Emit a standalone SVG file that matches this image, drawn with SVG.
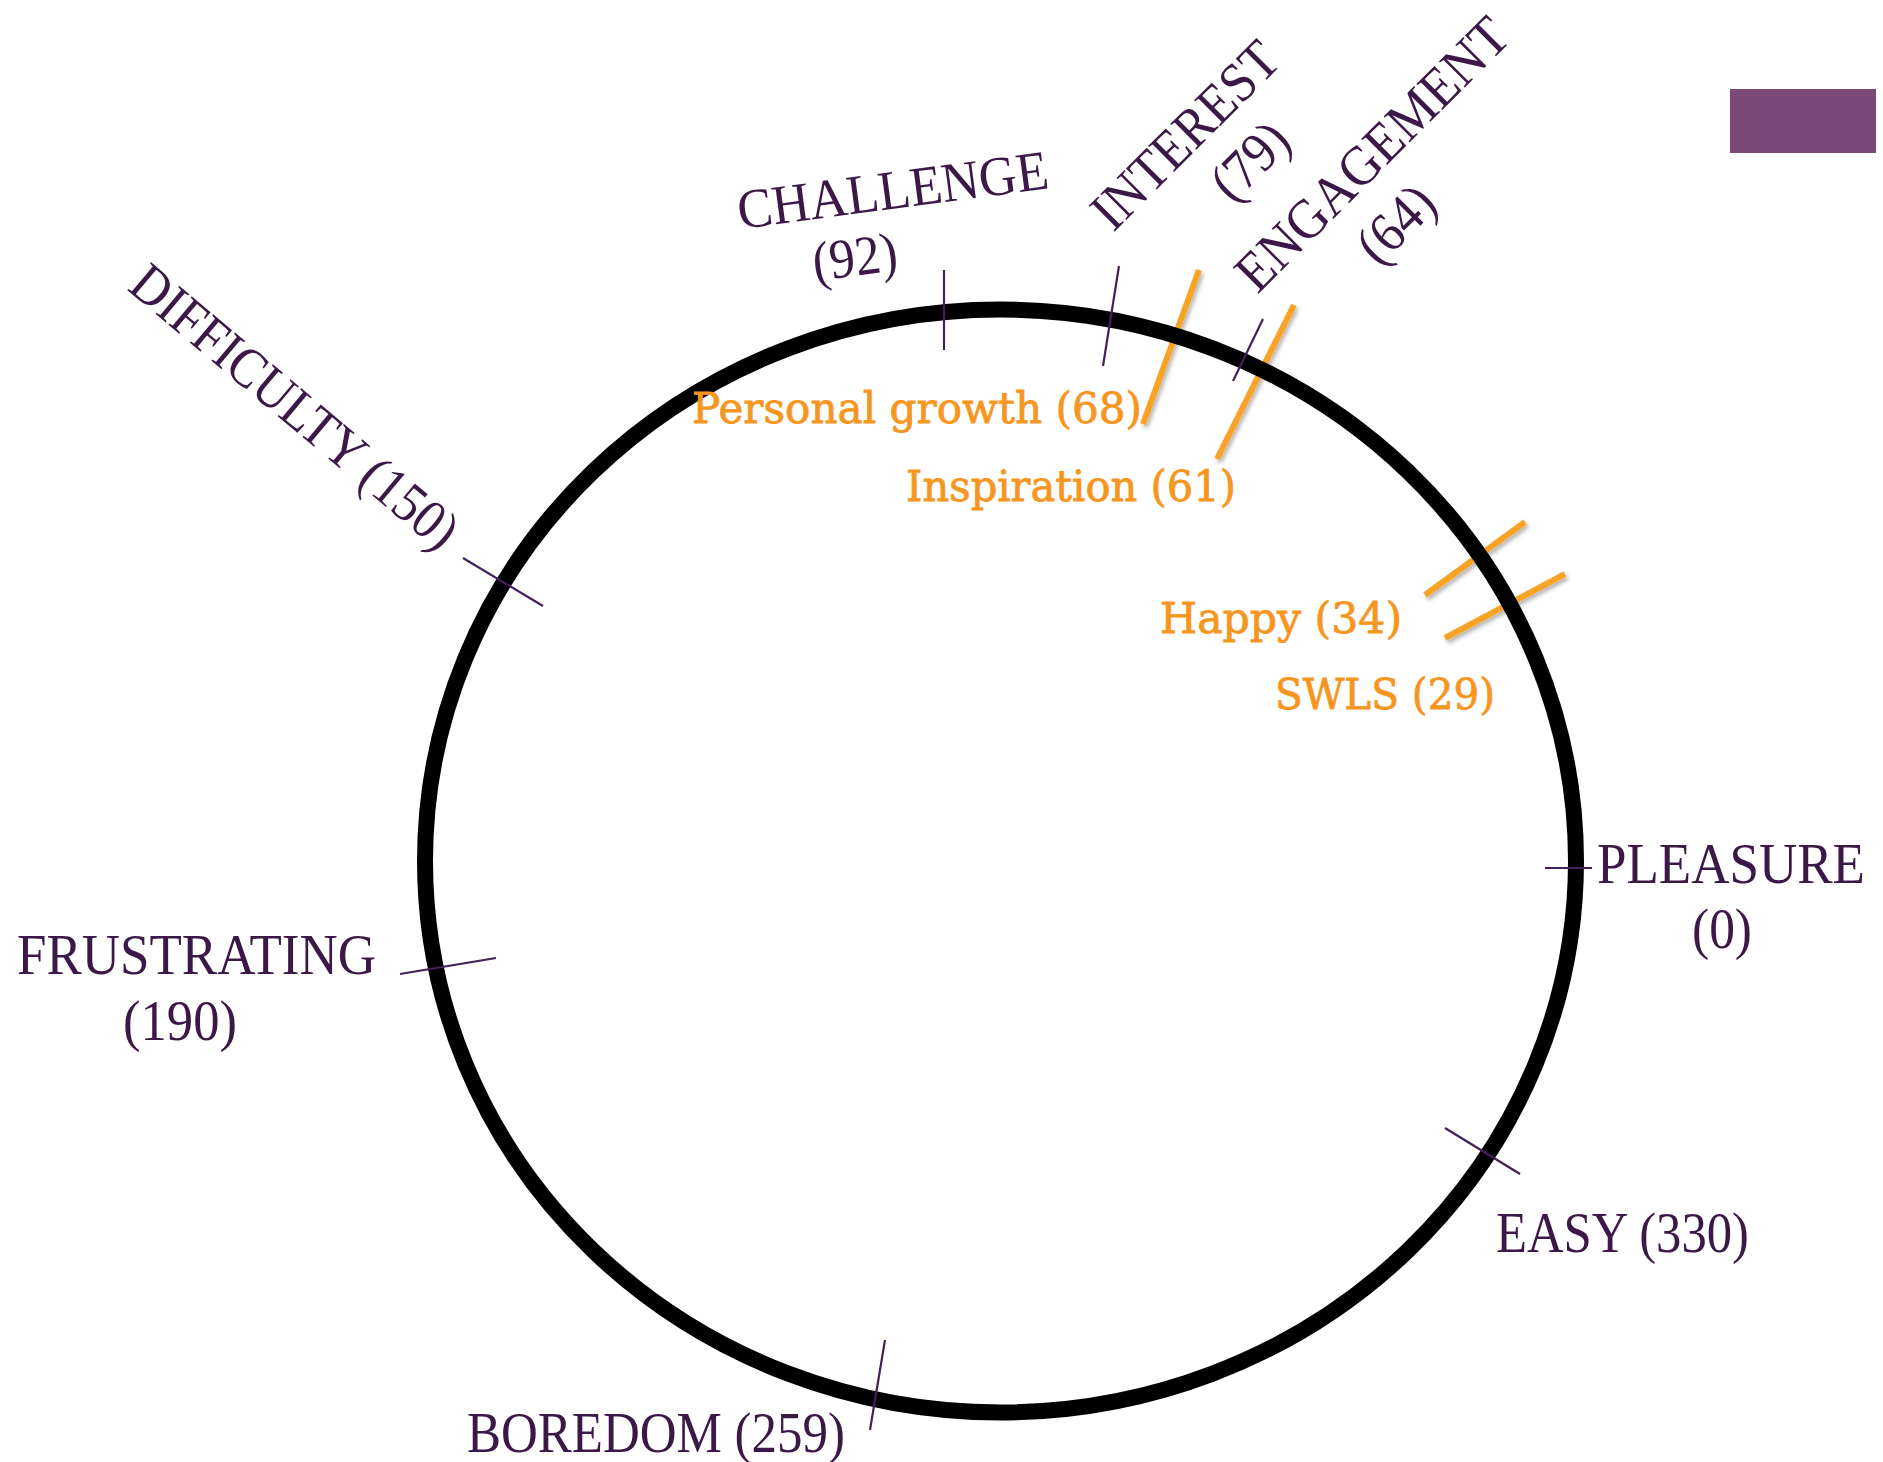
<svg xmlns="http://www.w3.org/2000/svg" width="1883" height="1462" viewBox="0 0 1883 1462">
<defs>
<filter id="sh" x="-20%" y="-20%" width="140%" height="140%">
<feDropShadow dx="2" dy="3" stdDeviation="2" flood-color="#000" flood-opacity="0.3"/>
</filter>
<style>
.lbl{font-family:"Liberation Serif","Times New Roman",serif;font-size:56px;fill:#3b1847}
.org{font-family:"DejaVu Serif","Liberation Serif",serif;font-size:42px;fill:#f7961f;stroke:#f7961f;stroke-width:0.8}
.tick{stroke:#43205a;stroke-width:2.2;fill:none}
.oline{stroke:#f8a227;stroke-width:6;fill:none;filter:url(#sh)}
</style>
</defs>
<rect width="1883" height="1462" fill="#ffffff"/>
<rect id="corner-bar" x="1730" y="89" width="146" height="64" fill="#7b4978"/>
<g id="orange-connectors">
<line class="oline" x1="1199" y1="270" x2="1143" y2="424"/>
<line class="oline" x1="1294" y1="305" x2="1217" y2="459"/>
<line class="oline" x1="1525" y1="522" x2="1425" y2="595"/>
<line class="oline" x1="1565" y1="574" x2="1445" y2="638"/>
</g>
<g id="circle">
<ellipse cx="1000.5" cy="861" rx="575.5" ry="551.5" fill="none" stroke="#000" stroke-width="16"/>
</g>
<g id="connectors">
<line class="tick" x1="944" y1="270" x2="944" y2="350"/>
<line class="tick" x1="1119" y1="266" x2="1103" y2="366"/>
<line class="tick" x1="1263" y1="319" x2="1233" y2="381"/>
<line class="tick" x1="463" y1="558" x2="543" y2="606"/>
<line class="tick" x1="400" y1="974" x2="496" y2="958"/>
<line class="tick" x1="1545" y1="868" x2="1592" y2="868"/>
<line class="tick" x1="1445" y1="1128" x2="1520" y2="1174"/>
<line class="tick" x1="885" y1="1340" x2="870" y2="1430"/>
</g>
<g id="node-challenge">
<text class="lbl" transform="translate(740,229) rotate(-7.5)" x="0" y="0" textLength="313" lengthAdjust="spacingAndGlyphs">CHALLENGE</text>
<text class="lbl" transform="translate(815,281) rotate(-7.5)" x="0" y="0" textLength="85" lengthAdjust="spacingAndGlyphs">(92)</text>
</g>
<g id="node-interest">
<text class="lbl" transform="translate(1185,135) rotate(-45)" x="0" y="18.5" text-anchor="middle" textLength="240" lengthAdjust="spacingAndGlyphs">INTEREST</text>
<text class="lbl" transform="translate(1253,164) rotate(-45)" x="0" y="14" text-anchor="middle" textLength="86" lengthAdjust="spacingAndGlyphs">(79)</text>
</g>
<g id="node-engagement">
<text class="lbl" transform="translate(1372,154) rotate(-45)" x="0" y="18.5" text-anchor="middle" textLength="361" lengthAdjust="spacingAndGlyphs">ENGAGEMENT</text>
<text class="lbl" transform="translate(1399,227) rotate(-45)" x="0" y="14" text-anchor="middle" textLength="86" lengthAdjust="spacingAndGlyphs">(64)</text>
</g>
<g id="node-difficulty">
<text class="lbl" transform="translate(292,410) rotate(40)" x="0" y="14" text-anchor="middle" textLength="409" lengthAdjust="spacingAndGlyphs">DIFFICULTY (150)</text>
</g>
<g id="node-frustrating">
<text class="lbl" x="17" y="974" textLength="359" lengthAdjust="spacingAndGlyphs">FRUSTRATING</text>
<text class="lbl" x="123" y="1040" textLength="114" lengthAdjust="spacingAndGlyphs">(190)</text>
</g>
<g id="node-pleasure">
<text class="lbl" x="1597" y="883" textLength="268" lengthAdjust="spacingAndGlyphs">PLEASURE</text>
<text class="lbl" x="1692" y="948" textLength="60" lengthAdjust="spacingAndGlyphs">(0)</text>
</g>
<g id="node-easy">
<text class="lbl" x="1496" y="1252" textLength="253" lengthAdjust="spacingAndGlyphs">EASY (330)</text>
</g>
<g id="node-boredom">
<text class="lbl" x="467" y="1452" textLength="378" lengthAdjust="spacingAndGlyphs">BOREDOM (259)</text>
</g>
<g id="node-personal-growth">
<text class="org" x="692" y="423" textLength="450" lengthAdjust="spacingAndGlyphs">Personal growth (68)</text>
</g>
<g id="node-inspiration">
<text class="org" x="906" y="501" textLength="330" lengthAdjust="spacingAndGlyphs">Inspiration (61)</text>
</g>
<g id="node-happy">
<text class="org" x="1160" y="633" textLength="242" lengthAdjust="spacingAndGlyphs">Happy (34)</text>
</g>
<g id="node-swls">
<text class="org" x="1275" y="709" textLength="220" lengthAdjust="spacingAndGlyphs">SWLS (29)</text>
</g>
</svg>
